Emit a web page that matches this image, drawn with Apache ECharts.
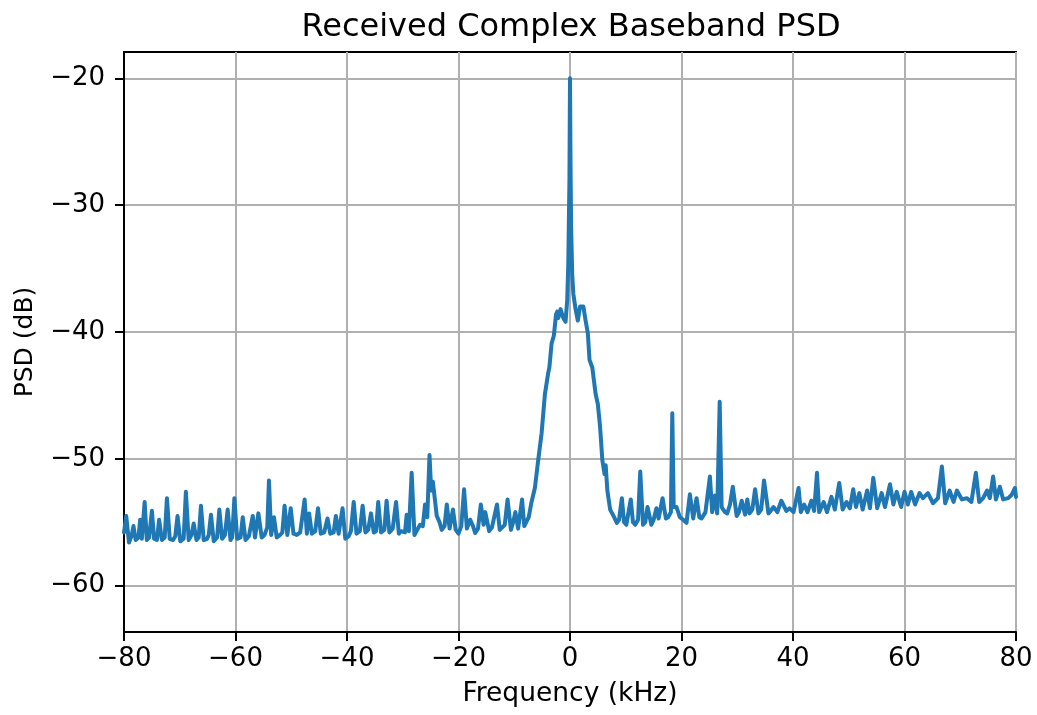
<!DOCTYPE html>
<html>
<head>
<meta charset="utf-8">
<title>Received Complex Baseband PSD</title>
<script src="https://cdn.jsdelivr.net/npm/echarts@6.0.0/dist/echarts.min.js"></script>
<style>
  html, body { margin: 0; padding: 0; background: #fff; }
  #chart { width: 1037px; height: 715px; }
</style>
</head>
<body>
<div id="chart"></div>
<script>
// Frequency bins (kHz) and PSD (dB)
var FREQ_KHZ = [
  -80.0, -79.6, -79.1, -78.6, -78.3, -77.9, -77.4, -77.1, -76.8, -76.3,
  -75.9, -75.5, -75.0, -74.6, -74.1, -73.7, -73.2, -72.7, -72.3, -71.8,
  -71.2, -70.8, -70.4, -69.9, -69.3, -68.9, -68.4, -67.9, -67.5, -67.0,
  -66.6, -66.2, -65.7, -65.1, -64.8, -64.4, -63.9, -63.3, -62.9, -62.4,
  -61.9, -61.4, -60.9, -60.6, -60.2, -59.7, -59.1, -58.7, -58.2, -57.6,
  -56.9, -56.5, -55.9, -55.3, -54.8, -54.3, -54.0, -53.6, -53.1, -52.6,
  -52.0, -51.6, -51.2, -50.7, -50.1, -49.6, -49.0, -48.4, -47.6, -47.2,
  -46.8, -46.3, -45.7, -45.2, -44.7, -44.1, -43.5, -43.0, -42.4, -42.0,
  -41.5, -40.8, -40.3, -39.7, -39.3, -38.8, -38.3, -37.7, -37.2, -36.7,
  -36.2, -35.7, -35.2, -34.8, -34.4, -33.9, -33.3, -32.9, -32.4, -31.8,
  -31.2, -30.7, -30.3, -29.6, -29.3, -28.9, -28.4, -27.9, -27.4, -26.9,
  -26.4, -26.0, -25.6, -25.2, -24.9, -24.6, -23.9, -23.4, -23.0, -22.5,
  -22.1, -21.6, -21.0, -20.5, -20.0, -19.5, -19.0, -18.5, -17.9, -17.4,
  -17.0, -16.5, -16.0, -15.5, -15.2, -14.5, -14.0, -13.1, -12.6, -12.3,
  -11.7, -11.2, -10.6, -10.2, -9.8, -9.3, -9.0, -8.6, -8.2, -7.9,
  -7.4, -6.9, -6.3, -5.7, -5.1, -4.5, -3.9, -3.7, -3.3, -2.9,
  -2.5, -2.3, -2.1, -1.7, -1.2, -0.8, -0.5, -0.3, -0.1, 0.0,
  0.1, 0.2, 0.4, 0.6, 1.0, 1.4, 1.8, 2.4, 2.8, 3.2,
  3.5, 4.0, 4.6, 5.0, 5.4, 5.8, 6.2, 6.4, 6.7, 7.2,
  7.8, 8.4, 8.8, 9.3, 9.7, 10.1, 10.9, 11.3, 11.7, 12.2,
  12.6, 13.1, 13.5, 13.9, 14.6, 15.0, 15.5, 15.9, 16.6, 17.2,
  17.6, 18.1, 18.35, 18.6, 19.1, 19.7, 20.3, 20.9, 21.5, 22.1,
  22.7, 23.2, 23.6, 24.3, 25.1, 25.5, 26.0, 26.4, 26.85, 27.2,
  27.8, 28.2, 28.7, 29.2, 29.9, 30.3, 30.8, 31.4, 31.8, 32.2,
  32.7, 33.2, 33.8, 34.3, 34.8, 35.6, 36.0, 36.5, 37.2, 37.9,
  38.8, 39.4, 40.1, 41.0, 41.4, 42.0, 42.6, 43.3, 43.8, 44.3,
  44.7, 45.5, 46.1, 46.9, 47.5, 48.3, 48.9, 49.6, 50.2, 50.8,
  51.3, 51.9, 52.5, 53.3, 53.8, 54.4, 55.1, 55.9, 56.5, 57.4,
  58.0, 58.6, 59.4, 60.0, 60.6, 61.2, 61.9, 62.7, 63.3, 64.2,
  65.1, 66.0, 66.7, 67.3, 68.1, 68.8, 69.4, 70.3, 71.2, 72.0,
  72.8, 73.4, 74.1, 74.8, 75.3, 75.9, 76.4, 77.1, 77.7, 78.6,
  79.2, 79.8, 80.0
];

var PSD_DB = [
  -55.8, -54.5, -56.6, -56.0, -55.3, -56.4, -56.2, -54.8, -56.3, -53.4,
  -56.4, -56.2, -54.1, -56.3, -56.4, -54.8, -56.4, -56.2, -53.1, -56.3,
  -56.4, -56.1, -54.5, -56.5, -56.3, -52.6, -56.4, -56.0, -55.1, -56.4,
  -56.2, -53.7, -56.4, -56.3, -56.0, -54.4, -56.5, -56.2, -54.0, -56.3,
  -56.0, -54.0, -56.4, -56.2, -53.1, -56.3, -56.2, -54.6, -56.4, -56.1,
  -54.5, -56.2, -54.3, -56.2, -56.0, -55.4, -51.7, -56.0, -54.6, -56.2,
  -56.0, -55.8, -53.7, -56.0, -53.9, -55.9, -56.0, -55.8, -53.2, -55.9,
  -54.3, -55.9, -55.7, -53.9, -55.9, -55.8, -54.7, -55.9, -55.8, -54.5,
  -55.9, -53.9, -56.3, -56.1, -55.7, -53.4, -55.9, -55.7, -53.7, -55.8,
  -55.6, -54.3, -55.8, -55.7, -53.4, -55.8, -55.6, -53.3, -55.8, -55.5,
  -53.4, -55.9, -55.7, -55.8, -54.4, -55.7, -51.1, -56.0, -55.6, -55.2,
  -55.3, -53.6, -54.6, -49.7, -52.5, -51.8, -54.5, -55.0, -55.6, -55.3,
  -53.6, -55.5, -54.0, -55.6, -55.9, -55.3, -52.4, -55.5, -54.8, -55.3,
  -55.85, -55.5, -53.6, -55.2, -54.2, -55.7, -55.4, -53.6, -55.6, -55.6,
  -55.2, -53.2, -55.6, -55.0, -54.2, -55.5, -55.5, -53.2, -55.3, -55.4,
  -54.6, -53.4, -52.3, -50.1, -48.0, -44.9, -43.2, -42.8, -40.9, -40.3,
  -38.6, -38.4, -38.9, -38.2, -38.9, -39.2, -37.5, -34.5, -28.0, -20.0,
  -27.0, -31.7, -35.5, -37.0, -38.2, -39.1, -38.0, -38.0, -39.1, -40.1,
  -42.2, -42.8, -44.9, -45.7, -47.5, -50.1, -51.2, -50.5, -52.5, -54.0,
  -54.5, -55.05, -54.8, -53.1, -55.0, -55.2, -53.2, -55.0, -55.2, -54.8,
  -51.0, -55.2, -55.0, -53.8, -55.2, -54.8, -53.9, -54.7, -53.1, -54.7,
  -54.6, -54.2, -46.4, -53.8, -53.8, -54.6, -54.8, -55.05, -52.8, -54.7,
  -53.1, -54.6, -54.7, -54.2, -51.4, -54.2, -52.9, -54.3, -45.5, -53.8,
  -54.2, -54.3, -53.6, -52.2, -54.5, -54.2, -53.3, -54.4, -53.2, -54.3,
  -54.0, -52.4, -54.3, -54.0, -51.7, -54.3, -54.1, -53.8, -54.2, -53.3,
  -54.1, -53.9, -54.2, -52.3, -54.2, -53.6, -54.2, -53.3, -54.1, -51.1,
  -54.2, -53.4, -54.2, -53.0, -54.0, -51.9, -54.0, -53.4, -53.9, -52.4,
  -53.8, -52.7, -54.0, -52.5, -53.9, -51.5, -53.9, -52.7, -53.8, -52.0,
  -53.6, -52.6, -53.8, -52.6, -53.6, -52.6, -53.6, -52.7, -53.1, -52.7,
  -53.5, -53.1, -50.6, -53.5, -52.5, -53.4, -52.5, -53.2, -53.1, -53.4,
  -51.1, -53.4, -53.1, -52.5, -53.1, -51.4, -53.2, -52.2, -53.2, -53.1,
  -52.85, -52.3, -53.0
];

var X_TICKS = [-80, -60, -40, -20, 0, 20, 40, 60, 80];
var Y_TICKS = [-60, -50, -40, -30, -20];
var Y_MIN = -63.65;
var Y_MAX = -17.93;

var FONT = '"DejaVu Sans", sans-serif';

function minusSign(v) {
  return String(v).replace('-', '\u2212');
}

var points = FREQ_KHZ.map(function (f, i) { return [f, PSD_DB[i]]; });

var chart = echarts.init(document.getElementById('chart'), null, { renderer: 'canvas' });
chart.setOption({
  animation: false,
  backgroundColor: '#ffffff',
  title: {
    text: 'Received Complex Baseband PSD',
    left: 566,
    top: 7,
    textAlign: 'center',
    textStyle: { fontFamily: FONT, fontSize: 32, fontWeight: 'normal', color: '#000' }
  },
  grid: {
    left: 124, right: 21, top: 52, bottom: 83,
    show: true, borderColor: '#000', borderWidth: 2, backgroundColor: 'transparent'
  },
  xAxis: {
    type: 'value',
    min: -80, max: 80, interval: 20,
    name: 'Frequency (kHz)',
    nameLocation: 'middle',
    nameGap: 49,
    nameTextStyle: { fontFamily: FONT, fontSize: 26.5, color: '#000' },
    axisLine: { show: true, onZero: false, lineStyle: { color: '#000', width: 2 } },
    axisTick: { show: true, inside: false, length: 9, lineStyle: { color: '#000', width: 2 } },
    axisLabel: {
      fontFamily: FONT, fontSize: 26, color: '#000', margin: 14,
      formatter: function (v) { return X_TICKS.indexOf(v) >= 0 ? minusSign(v) : ''; }
    },
    splitLine: { show: true, lineStyle: { color: '#b0b0b0', width: 2 } }
  },
  yAxis: {
    type: 'value',
    min: Y_MIN, max: Y_MAX,
    name: 'PSD (dB)',
    nameLocation: 'middle',
    nameGap: 86,
    nameTextStyle: { fontFamily: FONT, fontSize: 25, color: '#000' },
    axisLine: { show: true, onZero: false, lineStyle: { color: '#000', width: 2 } },
    axisTick: { show: true, inside: false, length: 9, customValues: Y_TICKS, lineStyle: { color: '#000', width: 2 } },
    axisLabel: {
      fontFamily: FONT, fontSize: 26, color: '#000', margin: 19,
      customValues: Y_TICKS,
      formatter: function (v) { return minusSign(v); }
    },
    splitLine: { show: true, lineStyle: { color: '#b0b0b0', width: 2 } }
  },
  series: [{
    type: 'line',
    data: points,
    showSymbol: false,
    clip: true,
    lineStyle: { color: '#1f77b4', width: 4, join: 'round', cap: 'round' },
    itemStyle: { color: '#1f77b4' }
  }]
});
</script>
</body>
</html>
